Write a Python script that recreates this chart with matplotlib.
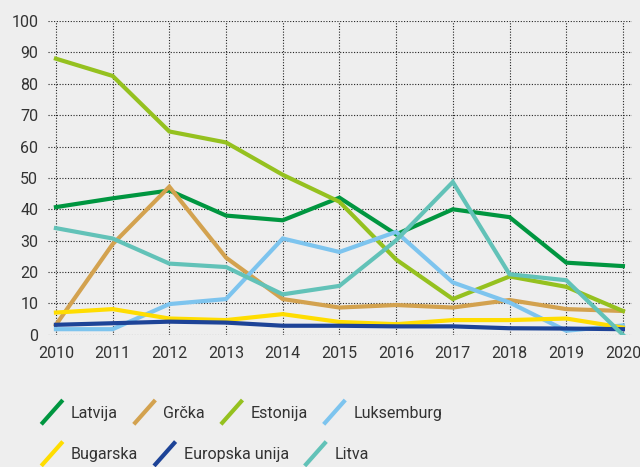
import matplotlib.pyplot as plt
from matplotlib.legend_handler import HandlerBase
from matplotlib.lines import Line2D

# godine i vrijednosti po zemljama (ocitano sa slike)
godine = list(range(2010, 2021))

latvija = [40.7, 43.5, 46.0, 38.0, 36.5, 43.7, 32.0, 40.0, 37.5, 23.0, 21.9]
grcka = [3.2, 28.9, 47.2, 24.6, 11.4, 8.7, 9.5, 8.7, 11.1, 8.2, 7.6]
estonija = [88.0, 82.5, 64.8, 61.3, 51.0, 42.4, 24.0, 11.4, 18.6, 15.3, 7.6]
luksemburg = [1.8, 1.8, 9.8, 11.4, 30.7, 26.4, 32.8, 16.7, 10.3, 1.3, 3.0]
bugarska = [7.1, 8.2, 5.2, 4.7, 6.6, 4.1, 3.4, 4.7, 4.7, 5.2, 2.3]
eu = [3.2, 3.7, 4.2, 3.9, 2.9, 2.9, 2.7, 2.7, 2.1, 2.0, 1.8]
litva = [34.0, 30.7, 22.7, 21.6, 12.9, 15.6, 30.1, 48.7, 19.3, 17.4, 0.0]

serije = [
    ("Latvija", latvija, "#009640"),
    ("Grčka", grcka, "#d3a24f"),
    ("Estonija", estonija, "#95c11f"),
    ("Luksemburg", luksemburg, "#7dc4ee"),
    ("Bugarska", bugarska, "#ffdd00"),
    ("Europska unija", eu, "#1d4397"),
    ("Litva", litva, "#62c2b8"),
]

plt.rcParams['font.family'] = ['Roboto', 'DejaVu Sans']
plt.rcParams['text.color'] = '#333333'


class KosaLinija(HandlerBase):
    def create_artists(self, legend, orig_handle, xdescent, ydescent,
                       width, height, fontsize, trans):
        x0 = -xdescent
        y0 = -ydescent - height * 0.35
        ln = Line2D([x0, x0 + width], [y0, y0 + height * 1.7],
                    color=orig_handle.get_color(), lw=3,
                    solid_capstyle='butt', transform=trans)
        return [ln]


fig = plt.figure(figsize=(6.4, 4.67), dpi=100, facecolor='#eeeeee')
ax = fig.add_axes([0.075, 0.283, 0.9125, 0.672], facecolor='#eeeeee')

linije = []
for ime, vrijednosti, boja in serije:
    l, = ax.plot(godine, vrijednosti, color=boja, lw=3, label=ime,
                 solid_joinstyle='miter')
    linije.append(l)

ax.set_xlim(2009.86, 2020.16)
ax.set_ylim(0, 100)
ax.set_xticks(godine)
ax.set_yticks(range(0, 101, 10))
ax.grid(True, color='#222222', linestyle=(0, (1, 1.5)), lw=0.8)
ax.set_axisbelow(True)
for s in ax.spines.values():
    s.set_visible(False)
ax.tick_params(length=0, labelsize=11.5, colors='#333333')
ax.tick_params(axis='x', pad=8)
ax.tick_params(axis='y', pad=7)

opcije = dict(frameon=False, fontsize=11.5, handlelength=1.35,
              handleheight=1.0, columnspacing=1.0, handletextpad=0.5,
              handler_map={Line2D: KosaLinija()})
fig.legend(linije[:4], [s[0] for s in serije[:4]], ncol=4,
           loc='center left', bbox_to_anchor=(0.042, 0.116), **opcije)
fig.legend(linije[4:], [s[0] for s in serije[4:]], ncol=3,
           loc='center left', bbox_to_anchor=(0.042, 0.027), **opcije)

fig.savefig('out.png', dpi=100, facecolor=fig.get_facecolor())
